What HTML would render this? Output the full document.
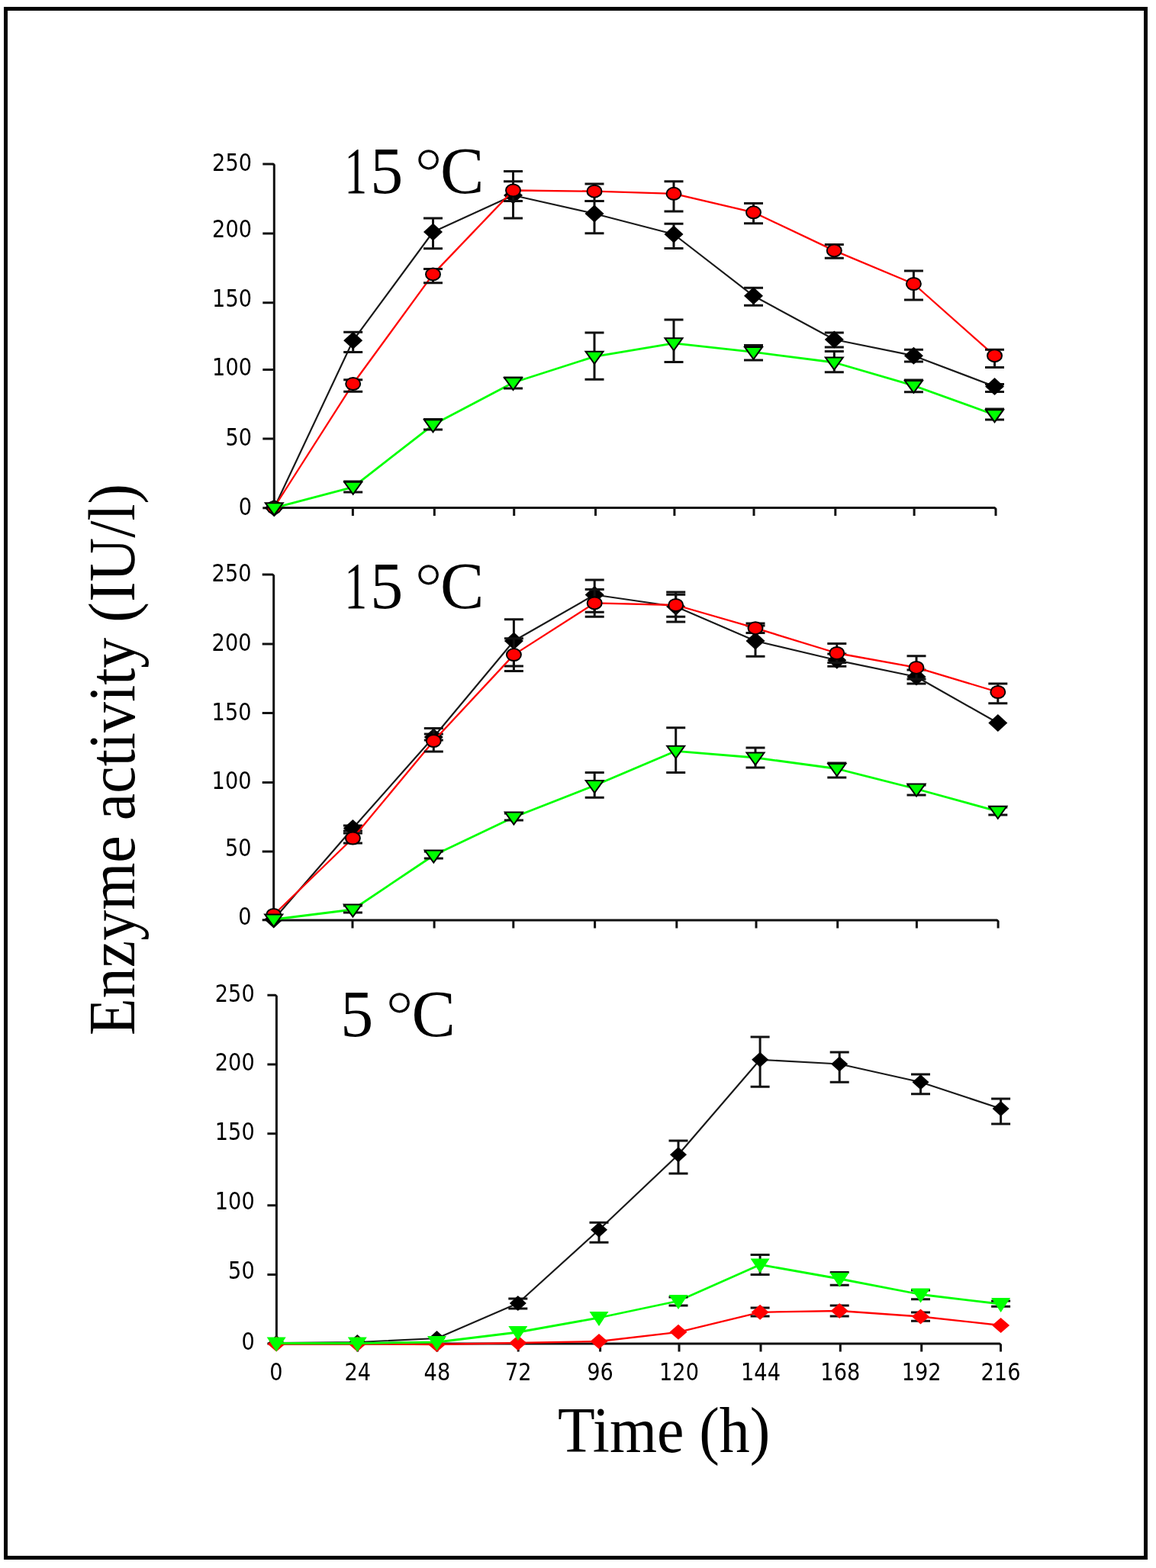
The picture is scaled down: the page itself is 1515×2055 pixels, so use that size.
<!DOCTYPE html><html><head><meta charset="utf-8"><title>Enzyme activity</title><style>
html,body{margin:0;padding:0;background:#fff;}svg{display:block;}
.tk{font-family:"DejaVu Sans Condensed","DejaVu Sans","Liberation Sans",sans-serif;font-stretch:condensed;font-size:32.5px;fill:#000;}
.sf{font-family:"Liberation Serif",serif;fill:#000;}
</style></head><body>
<svg width="1515" height="2055" viewBox="0 0 1515 2055">
<rect x="0" y="0" width="1515" height="2055" fill="#fff"/>
<rect x="7.5" y="11.5" width="1494" height="2030" fill="none" stroke="#000" stroke-width="5"/>
<g><path d="M344.3,214.9 H357.8 L359.3,216.4 V665.6 H1303.5 L1305,667.1 V676.1" fill="none" stroke="#111" stroke-width="3" stroke-linejoin="round"/><path d="M344.3,665.7 H359.3 M344.3,574.9 H359.3 M344.3,484.4 H359.3 M344.3,396.7 H359.3 M344.3,306 H359.3 M462.4,665.6 V676.1 M569.3,665.6 V676.1 M673.7,665.6 V676.1 M780.5,665.6 V676.1 M883.9,665.6 V676.1 M988,665.6 V676.1 M1094.8,665.6 V676.1 M1198.1,665.6 V676.1" stroke="#111" stroke-width="3" fill="none"/><text class="tk" text-anchor="end" transform="translate(330,674.5) scale(0.93,1)">0</text><text class="tk" text-anchor="end" transform="translate(330,583.6) scale(0.93,1)">50</text><text class="tk" text-anchor="end" transform="translate(330,492.4) scale(0.93,1)">100</text><text class="tk" text-anchor="end" transform="translate(330,401.9) scale(0.93,1)">150</text><text class="tk" text-anchor="end" transform="translate(330,311.3) scale(0.93,1)">200</text><text class="tk" text-anchor="end" transform="translate(330,223.9) scale(0.93,1)">250</text><polyline points="359.3,665.7 462.7,446.3 567.5,304 672.5,256 779,280 883,307 987.5,387.8 1093.3,445 1197.4,466.2 1303.5,506.5" fill="none" stroke="#1a1a1a" stroke-width="2.2" stroke-linejoin="round"/><path d="M462.7,435.2 V461.4 M450.2,435.2 H475.2 M450.2,461.4 H475.2 M567.5,286 V325.7 M555,286 H580 M555,325.7 H580 M672.5,224.4 V286.1 M660,224.4 H685 M660,286.1 H685 M779,263.6 V305.7 M766.5,263.6 H791.5 M766.5,305.7 H791.5 M883,293.2 V325.5 M870.5,293.2 H895.5 M870.5,325.5 H895.5 M987.5,377.2 V400.3 M975,377.2 H1000 M975,400.3 H1000 M1093.3,436 V455 M1080.8,436 H1105.8 M1080.8,455 H1105.8 M1197.4,458.3 V474.1 M1184.9,458.3 H1209.9 M1184.9,474.1 H1209.9 M1303.5,503.5 V513.5 M1291,503.5 H1316 M1291,513.5 H1316" stroke="#111" stroke-width="3" fill="none"/><path d="M359.3,654.2 L371.8,665.7 L359.3,677.2 L346.8,665.7 Z" fill="#000"/><path d="M462.7,434.8 L475.2,446.3 L462.7,457.8 L450.2,446.3 Z" fill="#000"/><path d="M567.5,292.5 L580,304 L567.5,315.5 L555,304 Z" fill="#000"/><path d="M672.5,244.5 L685,256 L672.5,267.5 L660,256 Z" fill="#000"/><path d="M779,268.5 L791.5,280 L779,291.5 L766.5,280 Z" fill="#000"/><path d="M883,295.5 L895.5,307 L883,318.5 L870.5,307 Z" fill="#000"/><path d="M987.5,376.3 L1000,387.8 L987.5,399.3 L975,387.8 Z" fill="#000"/><path d="M1093.3,433.5 L1105.8,445 L1093.3,456.5 L1080.8,445 Z" fill="#000"/><path d="M1197.4,454.7 L1209.9,466.2 L1197.4,477.7 L1184.9,466.2 Z" fill="#000"/><path d="M1303.5,495 L1316,506.5 L1303.5,518 L1291,506.5 Z" fill="#000"/><polyline points="359.3,665 462.7,503 567.5,359.4 672.5,249.5 779,250.7 883,253.8 987.5,278.3 1093.3,328.4 1197.4,372 1303.5,466.2" fill="none" stroke="#ff0000" stroke-width="2.3" stroke-linejoin="round"/><path d="M462.7,497.8 V513.3 M450.2,497.8 H475.2 M450.2,513.3 H475.2 M567.5,352.5 V370.7 M555,352.5 H580 M555,370.7 H580 M672.5,237.7 V263.6 M660,237.7 H685 M660,263.6 H685 M779,241 V263.6 M766.5,241 H791.5 M766.5,263.6 H791.5 M883,237.7 V276.9 M870.5,237.7 H895.5 M870.5,276.9 H895.5 M987.5,266.4 V292.8 M975,266.4 H1000 M975,292.8 H1000 M1093.3,320.5 V338.2 M1080.8,320.5 H1105.8 M1080.8,338.2 H1105.8 M1197.4,354.9 V393.1 M1184.9,354.9 H1209.9 M1184.9,393.1 H1209.9 M1303.5,458.3 V481.4 M1291,458.3 H1316 M1291,481.4 H1316" stroke="#111" stroke-width="3" fill="none"/><ellipse cx="359.3" cy="665" rx="9.5" ry="8" fill="#ff0000" stroke="#000" stroke-width="2"/><ellipse cx="462.7" cy="503" rx="9.5" ry="8" fill="#ff0000" stroke="#000" stroke-width="2"/><ellipse cx="567.5" cy="359.4" rx="9.5" ry="8" fill="#ff0000" stroke="#000" stroke-width="2"/><ellipse cx="672.5" cy="249.5" rx="9.5" ry="8" fill="#ff0000" stroke="#000" stroke-width="2"/><ellipse cx="779" cy="250.7" rx="9.5" ry="8" fill="#ff0000" stroke="#000" stroke-width="2"/><ellipse cx="883" cy="253.8" rx="9.5" ry="8" fill="#ff0000" stroke="#000" stroke-width="2"/><ellipse cx="987.5" cy="278.3" rx="9.5" ry="8" fill="#ff0000" stroke="#000" stroke-width="2"/><ellipse cx="1093.3" cy="328.4" rx="9.5" ry="8" fill="#ff0000" stroke="#000" stroke-width="2"/><ellipse cx="1197.4" cy="372" rx="9.5" ry="8" fill="#ff0000" stroke="#000" stroke-width="2"/><ellipse cx="1303.5" cy="466.2" rx="9.5" ry="8" fill="#ff0000" stroke="#000" stroke-width="2"/><polyline points="359.3,665.7 462.7,638.3 567.5,556.8 672.5,501.5 779,467.3 883,449.8 987.5,461.4 1093.3,475 1197.4,505.4 1303.5,543.7" fill="none" stroke="#00ff00" stroke-width="2.8" stroke-linejoin="round"/><path d="M462.7,631 V645 M450.2,631 H475.2 M450.2,645 H475.2 M567.5,549.5 V563 M555,549.5 H580 M555,563 H580 M672.5,495 V508.9 M660,495 H685 M660,508.9 H685 M779,436 V497.2 M766.5,436 H791.5 M766.5,497.2 H791.5 M883,419 V474.4 M870.5,419 H895.5 M870.5,474.4 H895.5 M987.5,452.6 V471.9 M975,452.6 H1000 M975,471.9 H1000 M1093.3,460.4 V487.7 M1080.8,460.4 H1105.8 M1080.8,487.7 H1105.8 M1197.4,497.9 V513.7 M1184.9,497.9 H1209.9 M1184.9,513.7 H1209.9 M1303.5,536 V550 M1291,536 H1316 M1291,550 H1316" stroke="#111" stroke-width="3" fill="none"/><path d="M347.8,659.2 H370.8 L359.3,675.2 Z" fill="#00ff00" stroke="#000" stroke-width="2" stroke-linejoin="miter"/><path d="M451.2,631.8 H474.2 L462.7,647.8 Z" fill="#00ff00" stroke="#000" stroke-width="2" stroke-linejoin="miter"/><path d="M556,550.3 H579 L567.5,566.3 Z" fill="#00ff00" stroke="#000" stroke-width="2" stroke-linejoin="miter"/><path d="M661,495 H684 L672.5,511 Z" fill="#00ff00" stroke="#000" stroke-width="2" stroke-linejoin="miter"/><path d="M767.5,460.8 H790.5 L779,476.8 Z" fill="#00ff00" stroke="#000" stroke-width="2" stroke-linejoin="miter"/><path d="M871.5,443.3 H894.5 L883,459.3 Z" fill="#00ff00" stroke="#000" stroke-width="2" stroke-linejoin="miter"/><path d="M976,454.9 H999 L987.5,470.9 Z" fill="#00ff00" stroke="#000" stroke-width="2" stroke-linejoin="miter"/><path d="M1081.8,468.5 H1104.8 L1093.3,484.5 Z" fill="#00ff00" stroke="#000" stroke-width="2" stroke-linejoin="miter"/><path d="M1185.9,498.9 H1208.9 L1197.4,514.9 Z" fill="#00ff00" stroke="#000" stroke-width="2" stroke-linejoin="miter"/><path d="M1292,537.2 H1315 L1303.5,553.2 Z" fill="#00ff00" stroke="#000" stroke-width="2" stroke-linejoin="miter"/></g>
<g><path d="M343.7,753 H357.2 L358.7,754.5 V1206 H1306.6 L1308.1,1207.5 V1216.5" fill="none" stroke="#111" stroke-width="3" stroke-linejoin="round"/><path d="M343.7,1205.8 H358.7 M343.7,1116 H358.7 M343.7,1025.5 H358.7 M343.7,934.6 H358.7 M343.7,844.1 H358.7 M462,1206 V1216.5 M569.1,1206 V1216.5 M672.8,1206 V1216.5 M779.6,1206 V1216.5 M886.8,1206 V1216.5 M991,1206 V1216.5 M1097.7,1206 V1216.5 M1201.4,1206 V1216.5" stroke="#111" stroke-width="3" fill="none"/><text class="tk" text-anchor="end" transform="translate(329.5,1211.9) scale(0.93,1)">0</text><text class="tk" text-anchor="end" transform="translate(329.5,1121.7) scale(0.93,1)">50</text><text class="tk" text-anchor="end" transform="translate(329.5,1033.8) scale(0.93,1)">100</text><text class="tk" text-anchor="end" transform="translate(329.5,943.5) scale(0.93,1)">150</text><text class="tk" text-anchor="end" transform="translate(329.5,852.7) scale(0.93,1)">200</text><text class="tk" text-anchor="end" transform="translate(329.5,761.9) scale(0.93,1)">250</text><polyline points="358.7,1205 462.4,1085.5 568.3,966 673.4,840 779.2,779.5 885.7,795 990,840 1096.8,865.3 1201,887 1307.8,947.5" fill="none" stroke="#1a1a1a" stroke-width="2.2" stroke-linejoin="round"/><path d="M462.4,1082 V1089 M449.9,1082 H474.9 M449.9,1089 H474.9 M568.3,962 V970 M555.8,962 H580.8 M555.8,970 H580.8 M673.4,811.8 V873 M660.9,811.8 H685.9 M660.9,873 H685.9 M779.2,760.1 V802.3 M766.7,760.1 H791.7 M766.7,802.3 H791.7 M885.7,776 V814.9 M873.2,776 H898.2 M873.2,814.9 H898.2 M990,820 V860.2 M977.5,820 H1002.5 M977.5,860.2 H1002.5 M1096.8,857 V873.3 M1084.3,857 H1109.3 M1084.3,873.3 H1109.3 M1201,878 V896 M1188.5,878 H1213.5 M1188.5,896 H1213.5" stroke="#111" stroke-width="3" fill="none"/><path d="M358.7,1193.5 L371.2,1205 L358.7,1216.5 L346.2,1205 Z" fill="#000"/><path d="M462.4,1074 L474.9,1085.5 L462.4,1097 L449.9,1085.5 Z" fill="#000"/><path d="M568.3,954.5 L580.8,966 L568.3,977.5 L555.8,966 Z" fill="#000"/><path d="M673.4,828.5 L685.9,840 L673.4,851.5 L660.9,840 Z" fill="#000"/><path d="M779.2,768 L791.7,779.5 L779.2,791 L766.7,779.5 Z" fill="#000"/><path d="M885.7,783.5 L898.2,795 L885.7,806.5 L873.2,795 Z" fill="#000"/><path d="M990,828.5 L1002.5,840 L990,851.5 L977.5,840 Z" fill="#000"/><path d="M1096.8,853.8 L1109.3,865.3 L1096.8,876.8 L1084.3,865.3 Z" fill="#000"/><path d="M1201,875.5 L1213.5,887 L1201,898.5 L1188.5,887 Z" fill="#000"/><path d="M1307.8,936 L1320.3,947.5 L1307.8,959 L1295.3,947.5 Z" fill="#000"/><polyline points="358.7,1199 462.4,1098.5 568.3,971 673.4,858.1 779.2,790.4 885.7,793 990,823.2 1096.8,856 1201,874.9 1307.8,907" fill="none" stroke="#ff0000" stroke-width="2.3" stroke-linejoin="round"/><path d="M462.4,1092 V1105 M449.9,1092 H474.9 M449.9,1105 H474.9 M568.3,954.4 V984.9 M555.8,954.4 H580.8 M555.8,984.9 H580.8 M673.4,836.7 V879.5 M660.9,836.7 H685.9 M660.9,879.5 H685.9 M779.2,772.6 V808.2 M766.7,772.6 H791.7 M766.7,808.2 H791.7 M885.7,779.2 V808.3 M873.2,779.2 H898.2 M873.2,808.3 H898.2 M990,817 V829.4 M977.5,817 H1002.5 M977.5,829.4 H1002.5 M1096.8,843.6 V868.4 M1084.3,843.6 H1109.3 M1084.3,868.4 H1109.3 M1201,859.8 V890 M1188.5,859.8 H1213.5 M1188.5,890 H1213.5 M1307.8,896 V921.8 M1295.3,896 H1320.3 M1295.3,921.8 H1320.3" stroke="#111" stroke-width="3" fill="none"/><ellipse cx="358.7" cy="1199" rx="9.5" ry="8" fill="#ff0000" stroke="#000" stroke-width="2"/><ellipse cx="462.4" cy="1098.5" rx="9.5" ry="8" fill="#ff0000" stroke="#000" stroke-width="2"/><ellipse cx="568.3" cy="971" rx="9.5" ry="8" fill="#ff0000" stroke="#000" stroke-width="2"/><ellipse cx="673.4" cy="858.1" rx="9.5" ry="8" fill="#ff0000" stroke="#000" stroke-width="2"/><ellipse cx="779.2" cy="790.4" rx="9.5" ry="8" fill="#ff0000" stroke="#000" stroke-width="2"/><ellipse cx="885.7" cy="793" rx="9.5" ry="8" fill="#ff0000" stroke="#000" stroke-width="2"/><ellipse cx="990" cy="823.2" rx="9.5" ry="8" fill="#ff0000" stroke="#000" stroke-width="2"/><ellipse cx="1096.8" cy="856" rx="9.5" ry="8" fill="#ff0000" stroke="#000" stroke-width="2"/><ellipse cx="1201" cy="874.9" rx="9.5" ry="8" fill="#ff0000" stroke="#000" stroke-width="2"/><ellipse cx="1307.8" cy="907" rx="9.5" ry="8" fill="#ff0000" stroke="#000" stroke-width="2"/><polyline points="358.7,1205 462.4,1192 568.3,1121 673.4,1071 779.2,1029.5 885.7,984.3 990,993 1096.8,1007.5 1201,1034 1307.8,1063.3" fill="none" stroke="#00ff00" stroke-width="2.8" stroke-linejoin="round"/><path d="M462.4,1187 V1196 M449.9,1187 H474.9 M449.9,1196 H474.9 M568.3,1116 V1125 M555.8,1116 H580.8 M555.8,1125 H580.8 M673.4,1066 V1075 M660.9,1066 H685.9 M660.9,1075 H685.9 M779.2,1012.5 V1045.3 M766.7,1012.5 H791.7 M766.7,1045.3 H791.7 M885.7,953.8 V1012.5 M873.2,953.8 H898.2 M873.2,1012.5 H898.2 M990,980 V1006 M977.5,980 H1002.5 M977.5,1006 H1002.5 M1096.8,1000 V1019 M1084.3,1000 H1109.3 M1084.3,1019 H1109.3 M1201,1029 V1042 M1188.5,1029 H1213.5 M1188.5,1042 H1213.5 M1307.8,1058 V1068 M1295.3,1058 H1320.3 M1295.3,1068 H1320.3" stroke="#111" stroke-width="3" fill="none"/><path d="M347.2,1198.5 H370.2 L358.7,1214.5 Z" fill="#00ff00" stroke="#000" stroke-width="2" stroke-linejoin="miter"/><path d="M450.9,1185.5 H473.9 L462.4,1201.5 Z" fill="#00ff00" stroke="#000" stroke-width="2" stroke-linejoin="miter"/><path d="M556.8,1114.5 H579.8 L568.3,1130.5 Z" fill="#00ff00" stroke="#000" stroke-width="2" stroke-linejoin="miter"/><path d="M661.9,1064.5 H684.9 L673.4,1080.5 Z" fill="#00ff00" stroke="#000" stroke-width="2" stroke-linejoin="miter"/><path d="M767.7,1023 H790.7 L779.2,1039 Z" fill="#00ff00" stroke="#000" stroke-width="2" stroke-linejoin="miter"/><path d="M874.2,977.8 H897.2 L885.7,993.8 Z" fill="#00ff00" stroke="#000" stroke-width="2" stroke-linejoin="miter"/><path d="M978.5,986.5 H1001.5 L990,1002.5 Z" fill="#00ff00" stroke="#000" stroke-width="2" stroke-linejoin="miter"/><path d="M1085.3,1001 H1108.3 L1096.8,1017 Z" fill="#00ff00" stroke="#000" stroke-width="2" stroke-linejoin="miter"/><path d="M1189.5,1027.5 H1212.5 L1201,1043.5 Z" fill="#00ff00" stroke="#000" stroke-width="2" stroke-linejoin="miter"/><path d="M1296.3,1056.8 H1319.3 L1307.8,1072.8 Z" fill="#00ff00" stroke="#000" stroke-width="2" stroke-linejoin="miter"/></g>
<g><path d="M350.4,1304.3 H360.9 L362.4,1305.8 V1761 H1310 L1311.5,1762.5 V1771.5" fill="none" stroke="#111" stroke-width="3" stroke-linejoin="round"/><path d="M350.4,1761 H362.4 M350.4,1670.4 H362.4 M350.4,1579.7 H362.4 M350.4,1485.8 H362.4 M350.4,1394.9 H362.4 M468.7,1761 V1771.5 M572.9,1761 V1771.5 M679.2,1761 V1771.5 M786.6,1761 V1771.5 M890,1761 V1771.5 M997,1761 V1771.5 M1101.3,1761 V1771.5 M1207.7,1761 V1771.5" stroke="#111" stroke-width="3" fill="none"/><text class="tk" text-anchor="end" transform="translate(333.7,1769.4) scale(0.93,1)">0</text><text class="tk" text-anchor="end" transform="translate(333.7,1675.8) scale(0.93,1)">50</text><text class="tk" text-anchor="end" transform="translate(333.7,1585) scale(0.93,1)">100</text><text class="tk" text-anchor="end" transform="translate(333.7,1493.8) scale(0.93,1)">150</text><text class="tk" text-anchor="end" transform="translate(333.7,1403.4) scale(0.93,1)">200</text><text class="tk" text-anchor="end" transform="translate(333.7,1313.2) scale(0.93,1)">250</text><text class="tk" text-anchor="middle" transform="translate(362,1808.6) scale(0.93,1)">0</text><text class="tk" text-anchor="middle" transform="translate(468.7,1808.6) scale(0.93,1)">24</text><text class="tk" text-anchor="middle" transform="translate(572.9,1808.6) scale(0.93,1)">48</text><text class="tk" text-anchor="middle" transform="translate(679.2,1808.6) scale(0.93,1)">72</text><text class="tk" text-anchor="middle" transform="translate(786.6,1808.6) scale(0.93,1)">96</text><text class="tk" text-anchor="middle" transform="translate(890,1808.6) scale(0.93,1)">120</text><text class="tk" text-anchor="middle" transform="translate(997,1808.6) scale(0.93,1)">144</text><text class="tk" text-anchor="middle" transform="translate(1101.3,1808.6) scale(0.93,1)">168</text><text class="tk" text-anchor="middle" transform="translate(1207.7,1808.6) scale(0.93,1)">192</text><text class="tk" text-anchor="middle" transform="translate(1311.5,1808.6) scale(0.93,1)">216</text><polyline points="362.2,1760 468.3,1759 572.5,1754 678.8,1708 785,1611.7 889,1513.3 996.1,1388.8 1100.2,1394.5 1206.5,1418.2 1311.6,1453" fill="none" stroke="#1a1a1a" stroke-width="2.2" stroke-linejoin="round"/><path d="M678.8,1702 V1715 M666.3,1702 H691.3 M666.3,1715 H691.3 M785,1602.2 V1628.3 M772.5,1602.2 H797.5 M772.5,1628.3 H797.5 M889,1495.1 V1538 M876.5,1495.1 H901.5 M876.5,1538 H901.5 M996.1,1359.1 V1424.2 M983.6,1359.1 H1008.6 M983.6,1424.2 H1008.6 M1100.2,1378.9 V1418.2 M1087.7,1378.9 H1112.7 M1087.7,1418.2 H1112.7 M1206.5,1408 V1433.8 M1194,1408 H1219 M1194,1433.8 H1219 M1311.6,1439.9 V1473 M1299.1,1439.9 H1324.1 M1299.1,1473 H1324.1" stroke="#111" stroke-width="3" fill="none"/><path d="M362.2,1750 L373.2,1760 L362.2,1770 L351.2,1760 Z" fill="#000"/><path d="M468.3,1749 L479.3,1759 L468.3,1769 L457.3,1759 Z" fill="#000"/><path d="M572.5,1744 L583.5,1754 L572.5,1764 L561.5,1754 Z" fill="#000"/><path d="M678.8,1698 L689.8,1708 L678.8,1718 L667.8,1708 Z" fill="#000"/><path d="M785,1601.7 L796,1611.7 L785,1621.7 L774,1611.7 Z" fill="#000"/><path d="M889,1503.3 L900,1513.3 L889,1523.3 L878,1513.3 Z" fill="#000"/><path d="M996.1,1378.8 L1007.1,1388.8 L996.1,1398.8 L985.1,1388.8 Z" fill="#000"/><path d="M1100.2,1384.5 L1111.2,1394.5 L1100.2,1404.5 L1089.2,1394.5 Z" fill="#000"/><path d="M1206.5,1408.2 L1217.5,1418.2 L1206.5,1428.2 L1195.5,1418.2 Z" fill="#000"/><path d="M1311.6,1443 L1322.6,1453 L1311.6,1463 L1300.6,1453 Z" fill="#000"/><polyline points="362.2,1761.5 468.3,1761.5 572.5,1762 678.8,1760 785,1758 889,1745.8 996.1,1719.8 1100.2,1718 1206.5,1725.5 1311.6,1737" fill="none" stroke="#ff0000" stroke-width="2.3" stroke-linejoin="round"/><path d="M996.1,1714 V1725 M983.6,1714 H1008.6 M983.6,1725 H1008.6 M1100.2,1711 V1725 M1087.7,1711 H1112.7 M1087.7,1725 H1112.7 M1206.5,1720 V1731.3 M1194,1720 H1219 M1194,1731.3 H1219" stroke="#111" stroke-width="3" fill="none"/><path d="M362.2,1751.5 L373.7,1761.5 L362.2,1771.5 L350.7,1761.5 Z" fill="#ff0000"/><path d="M468.3,1751.5 L479.8,1761.5 L468.3,1771.5 L456.8,1761.5 Z" fill="#ff0000"/><path d="M572.5,1752 L584,1762 L572.5,1772 L561,1762 Z" fill="#ff0000"/><path d="M678.8,1750 L690.3,1760 L678.8,1770 L667.3,1760 Z" fill="#ff0000"/><path d="M785,1748 L796.5,1758 L785,1768 L773.5,1758 Z" fill="#ff0000"/><path d="M889,1735.8 L900.5,1745.8 L889,1755.8 L877.5,1745.8 Z" fill="#ff0000"/><path d="M996.1,1709.8 L1007.6,1719.8 L996.1,1729.8 L984.6,1719.8 Z" fill="#ff0000"/><path d="M1100.2,1708 L1111.7,1718 L1100.2,1728 L1088.7,1718 Z" fill="#ff0000"/><path d="M1206.5,1715.5 L1218,1725.5 L1206.5,1735.5 L1195,1725.5 Z" fill="#ff0000"/><path d="M1311.6,1727 L1323.1,1737 L1311.6,1747 L1300.1,1737 Z" fill="#ff0000"/><polyline points="362.2,1760.5 468.3,1760.5 572.5,1759 678.8,1746 785,1727 889,1705 996.1,1657.5 1100.2,1676 1206.5,1696.5 1311.6,1709" fill="none" stroke="#00ff00" stroke-width="2.8" stroke-linejoin="round"/><path d="M889,1700 V1711 M876.5,1700 H901.5 M876.5,1711 H901.5 M996.1,1644.4 V1670.4 M983.6,1644.4 H1008.6 M983.6,1670.4 H1008.6 M1100.2,1667.5 V1684.2 M1087.7,1667.5 H1112.7 M1087.7,1684.2 H1112.7 M1206.5,1691 V1702.8 M1194,1691 H1219 M1194,1702.8 H1219 M1311.6,1705 V1712.3 M1299.1,1705 H1324.1 M1299.1,1712.3 H1324.1" stroke="#111" stroke-width="3" fill="none"/><path d="M349.7,1752.5 H374.7 L362.2,1771.5 Z" fill="#00ff00"/><path d="M455.8,1752.5 H480.8 L468.3,1771.5 Z" fill="#00ff00"/><path d="M560,1751 H585 L572.5,1770 Z" fill="#00ff00"/><path d="M666.3,1738 H691.3 L678.8,1757 Z" fill="#00ff00"/><path d="M772.5,1719 H797.5 L785,1738 Z" fill="#00ff00"/><path d="M876.5,1697 H901.5 L889,1716 Z" fill="#00ff00"/><path d="M983.6,1649.5 H1008.6 L996.1,1668.5 Z" fill="#00ff00"/><path d="M1087.7,1668 H1112.7 L1100.2,1687 Z" fill="#00ff00"/><path d="M1194,1688.5 H1219 L1206.5,1707.5 Z" fill="#00ff00"/><path d="M1299.1,1701 H1324.1 L1311.6,1720 Z" fill="#00ff00"/></g>
<text class="sf" font-size="86" y="253.2"><tspan x="451.5" textLength="29.6" lengthAdjust="spacingAndGlyphs">1</tspan><tspan x="485.2">5</tspan> <tspan x="543.3" y="256" font-size="92" stroke="#fff" stroke-width="1.2">°</tspan><tspan x="577.1" y="253.2">C</tspan></text>
<text class="sf" font-size="86" y="797.2"><tspan x="451.5" textLength="29.6" lengthAdjust="spacingAndGlyphs">1</tspan><tspan x="485.2">5</tspan> <tspan x="543.3" y="800" font-size="92" stroke="#fff" stroke-width="1.2">°</tspan><tspan x="577.1" y="797.2">C</tspan></text>
<text class="sf" font-size="86" y="1358.1"><tspan x="446.3">5</tspan> <tspan x="505.2" y="1360.9" font-size="92" stroke="#fff" stroke-width="1.2">°</tspan><tspan x="539.5" y="1358.1">C</tspan></text>
<text class="sf" font-size="85" transform="translate(730.9,1902.6) scale(0.938,1)">Time (h)</text>
<text class="sf" font-size="86" transform="translate(175.5,1357) rotate(-90) scale(0.929,1)">Enzyme activity (IU/l)</text>
</svg></body></html>
